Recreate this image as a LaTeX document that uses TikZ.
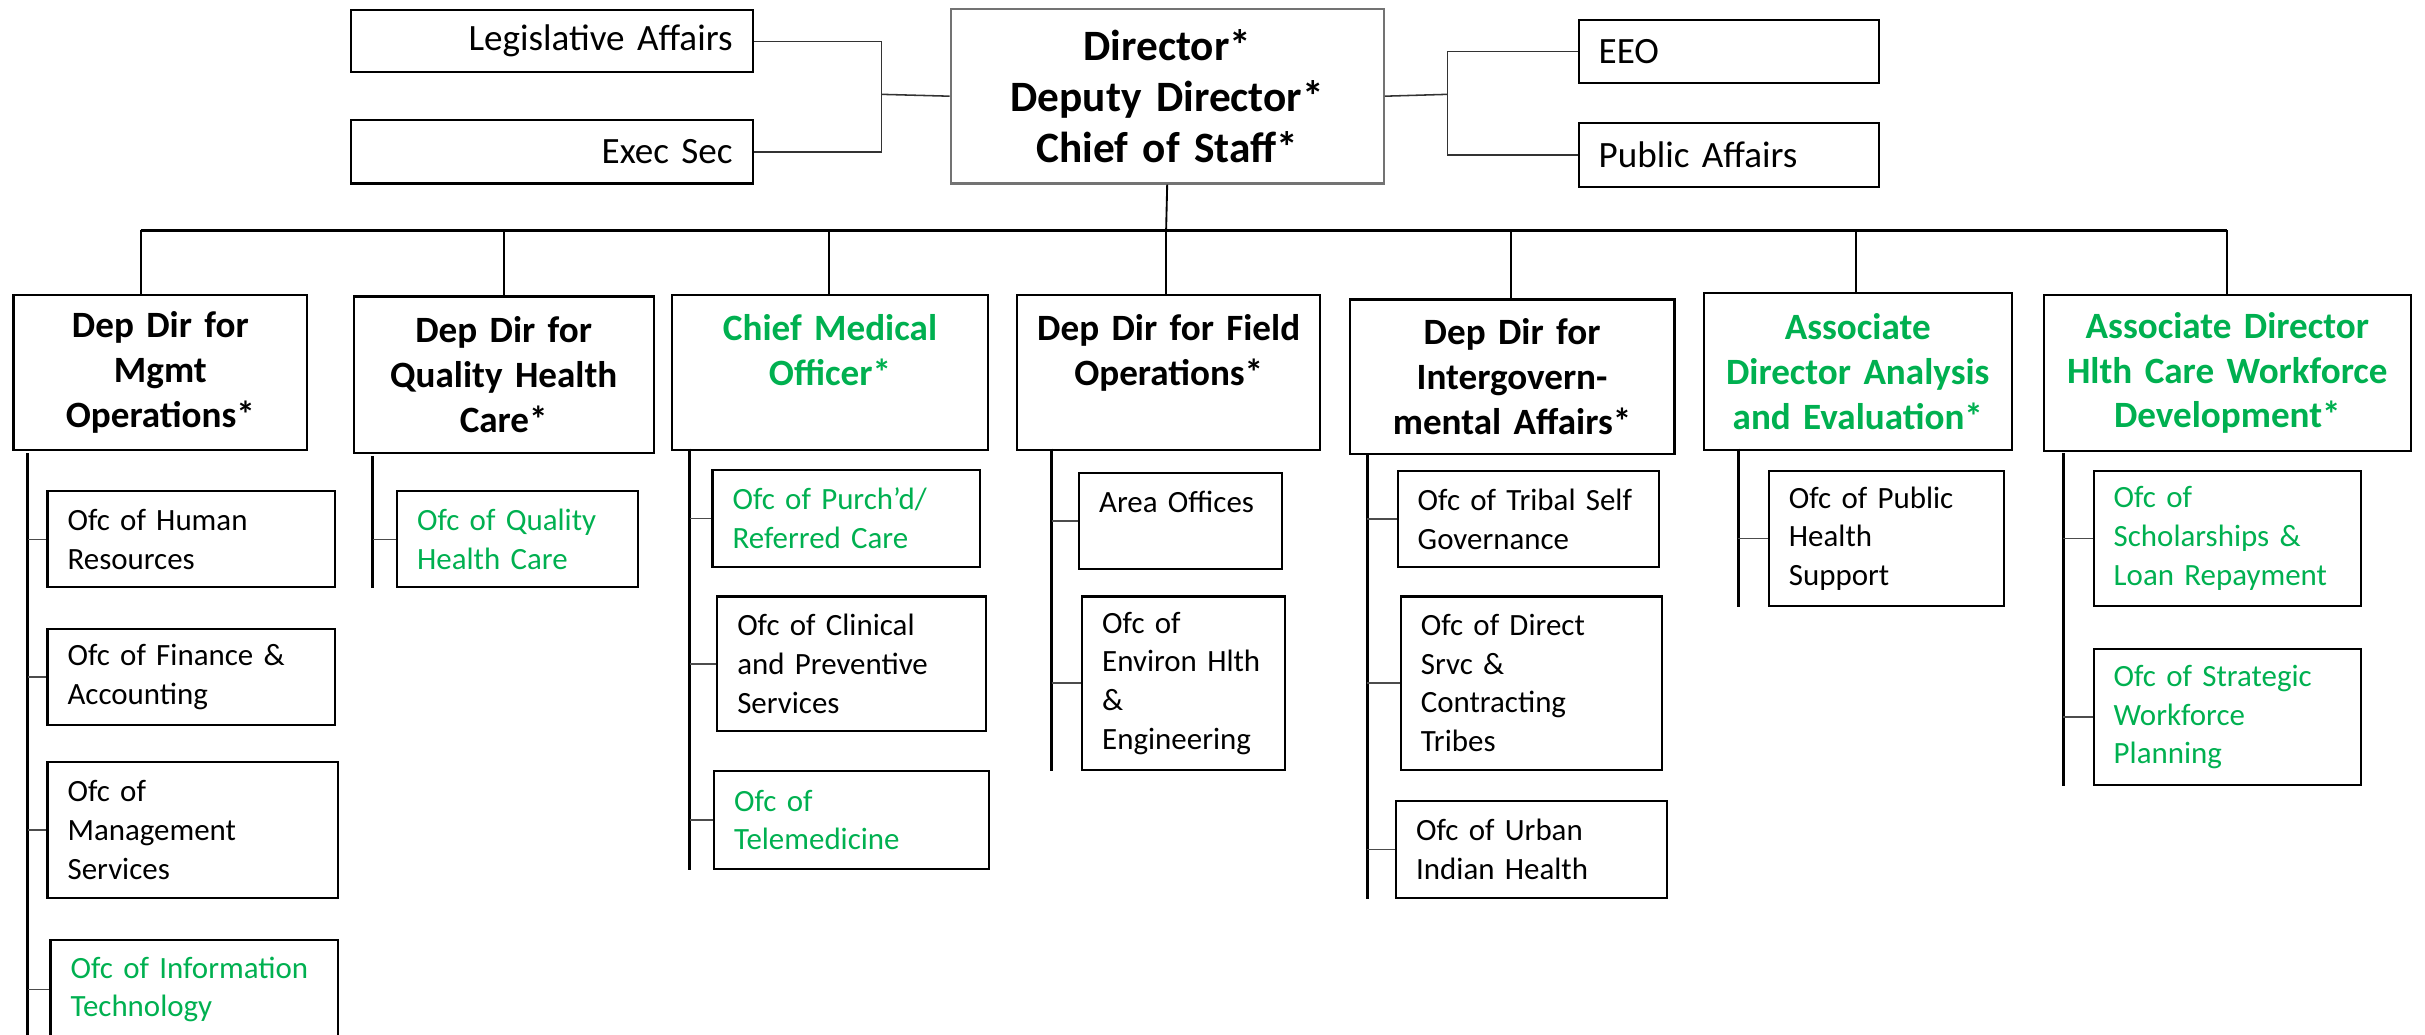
\documentclass[tikz,border=0pt]{standalone}
\usepackage{fontspec}
\setmainfont{Carlito}
\definecolor{ihsgreen}{RGB}{0,176,80}
\tikzset{
  office/.style={draw, line width=0.7pt, anchor=north west, align=left, inner xsep=6.5pt, inner ysep=2pt, font=\fontsize{10}{12.5}\selectfont},
  deputy/.style={draw, line width=0.7pt, anchor=north west, align=center, inner xsep=4pt, inner ysep=2pt, font=\bfseries\fontsize{12}{14.5}\selectfont},
  staff/.style={draw, line width=0.7pt, anchor=north west, inner xsep=6.5pt, inner ysep=2pt, font=\fontsize{12}{14.5}\selectfont},
  bus/.style={line width=1.2pt},
  drop/.style={line width=0.6pt},
  trunk/.style={line width=0.9pt},
  tick/.style={line width=0.5pt, black!70},
  link/.style={line width=0.5pt, black!80},
}
\begin{document}
\begin{tikzpicture}[x=0.5pt, y=-0.5pt]
\useasboundingbox (0,0) rectangle (1568,668.6);

% front office
\node[staff, align=right, text width=117pt, minimum height=20pt] (leg) at (226,6) {Legislative Affairs};
\node[staff, align=right, text width=117pt, minimum height=20.5pt] (exs) at (226,77) {Exec Sec};
\node[draw=black!55, line width=0.7pt, anchor=north west, align=center, text width=132pt, minimum height=56.5pt, inner xsep=4pt,
  font=\bfseries\fontsize{14}{16.5}\selectfont] (dirb) at (614,5) {Director*\\Deputy Director*\\Chief of Staff*};
\node[staff, align=left, text width=84pt, minimum height=20.5pt] (eeo) at (1020,12) {EEO};
\node[staff, align=left, text width=84pt, minimum height=20.5pt] (pua) at (1020,79) {Public Affairs};

\coordinate (jl) at (570,61);
\coordinate (jr) at (936,61);
\draw[link] (leg.east) -| (jl) |- (exs.east);
\draw[link] (jl) -- (dirb.west);
\draw[link] (dirb.east) -- (jr);
\draw[link] (eeo.west) -| (jr) |- (pua.west);

% deputies
\node[deputy, text width=87pt, minimum height=50pt] (d1) at (8,190) {Dep Dir for\\Mgmt\\Operations*};
\node[deputy, text width=89pt, minimum height=50.5pt] (d2) at (228,191) {Dep Dir for\\Quality Health\\Care*};
\node[deputy, text width=94pt, minimum height=50pt, text=ihsgreen] (d3) at (434,190) {Chief Medical\\Officer*\\\mbox{}};
\node[deputy, text width=90pt, minimum height=50pt] (d4) at (657,190) {Dep Dir for Field\\Operations*\\\mbox{}};
\node[deputy, text width=97pt, minimum height=50pt] (d5) at (872,193) {Dep Dir for\\Intergovern-\\mental Affairs*};
\node[deputy, text width=91.5pt, minimum height=50.5pt, text=ihsgreen] (d6) at (1101,189) {Associate\\Director Analysis\\and Evaluation*};
\node[deputy, text width=110.5pt, minimum height=50.5pt, text=ihsgreen] (d7) at (1321,190) {Associate Director\\Hlth Care Workforce\\Development*};

\coordinate (b1) at (91,149);
\coordinate (b2) at (326,149);
\coordinate (b3) at (536,149);
\coordinate (b4) at (754,149);
\coordinate (b5) at (977,149);
\coordinate (b6) at (1200,149);
\coordinate (b7) at (1440,149);
\draw[drop] (dirb.south) -- (b4);
\draw[bus] (b1) -- (b7);
\foreach \i in {1,...,7}{
\draw[drop] (b\i) -- (b\i |- d\i.north);
}

% offices
\node[office, text width=80pt, minimum height=31pt] (hr) at (30,317) {Ofc of Human\\Resources};
\node[office, text width=80pt, minimum height=31pt] (fin) at (30,406) {Ofc of Finance \&\\Accounting};
\node[office, text width=81pt, minimum height=44pt] (mgs) at (30,492) {Ofc of\\Management\\Services};
\node[office, text width=80pt, minimum height=32pt, text=ihsgreen] (it) at (32,607) {Ofc of Information\\Technology};

\node[office, text width=65pt, minimum height=31pt, text=ihsgreen] (qhc) at (256,317) {Ofc of Quality\\Health Care};

\node[office, text width=73.5pt, minimum height=31.5pt, text=ihsgreen] (pur) at (460,303) {Ofc of Purch’d/\\Referred Care};
\node[office, text width=74pt, minimum height=43.5pt] (cps) at (463,385) {Ofc of Clinical\\and Preventive\\Services};
\node[office, text width=76pt, minimum height=31.5pt, text=ihsgreen] (tel) at (461,498) {Ofc of\\Telemedicine};

\node[office, text width=52.5pt, minimum height=31pt] (area) at (697,305) {Area Offices\\\mbox{}};
\node[office, text width=52.5pt, minimum height=56pt] (env) at (699,385) {Ofc of\\Environ Hlth\\\&\\Engineering};

\node[office, text width=71.5pt, minimum height=31pt] (trb) at (903,304) {Ofc of Tribal Self\\Governance};
\node[office, text width=71.5pt, minimum height=56pt] (dsc) at (905,385) {Ofc of Direct\\Srvc \&\\Contracting\\Tribes};
\node[office, text width=74.5pt, minimum height=31.5pt] (urb) at (902,517) {Ofc of Urban\\Indian Health};

\node[office, text width=63pt, minimum height=43.5pt] (phs) at (1143,304) {Ofc of Public\\Health\\Support};

\node[office, text width=73.5pt, minimum height=43.5pt, text=ihsgreen] (sch) at (1353,304) {Ofc of\\Scholarships \&\\Loan Repayment};
\node[office, text width=73.5pt, minimum height=44pt, text=ihsgreen] (swp) at (1353,419) {Ofc of Strategic\\Workforce\\Planning};

% trunks and ticks
\coordinate (t1) at (18,293);
\coordinate (t2) at (241,295);
\coordinate (t3) at (446,290);
\coordinate (t4) at (680,290);
\coordinate (t5) at (884,293);
\coordinate (t6) at (1124,290);
\coordinate (t7) at (1334,293);
\draw[trunk] (t1) -- (t1 |- it.south);
\draw[trunk] (t2) -- (t2 |- qhc.south);
\draw[trunk] (t3) -- (t3 |- tel.south);
\draw[trunk] (t4) -- (t4 |- env.south);
\draw[trunk] (t5) -- (t5 |- urb.south);
\draw[trunk] (t6) -- (t6 |- phs.south);
\draw[trunk] (t7) -- (t7 |- swp.south);
\foreach \n in {hr,fin,mgs,it}{
\draw[tick] (t1 |- \n.west) -- (\n.west);
}
\draw[tick] (t2 |- qhc.west) -- (qhc.west);
\foreach \n in {pur,cps,tel}{
\draw[tick] (t3 |- \n.west) -- (\n.west);
}
\foreach \n in {area,env}{
\draw[tick] (t4 |- \n.west) -- (\n.west);
}
\foreach \n in {trb,dsc,urb}{
\draw[tick] (t5 |- \n.west) -- (\n.west);
}
\draw[tick] (t6 |- phs.west) -- (phs.west);
\foreach \n in {sch,swp}{
\draw[tick] (t7 |- \n.west) -- (\n.west);
}
\end{tikzpicture}
\end{document}
